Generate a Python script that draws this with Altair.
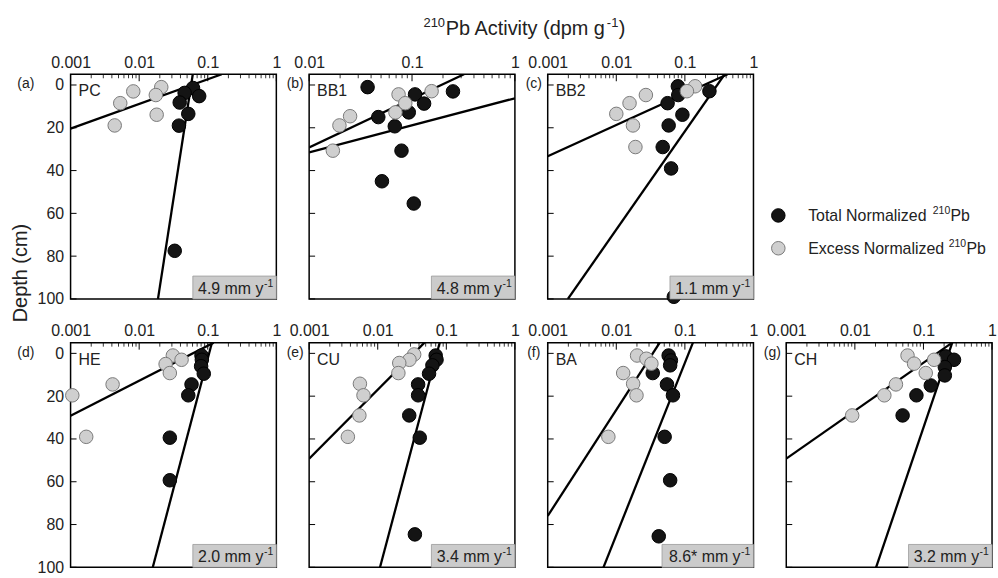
import altair as alt
import pandas as pd

FONT = "Liberation Sans"
W, H = 207, 226
Y_DOMAIN = [-5, 100]
DEPTH_TICKS = [0, 20, 40, 60, 80, 100]

# ---------------- data ----------------
panel_letters = ["a", "b", "c", "d", "e", "f", "g"]
site_names = ["PC", "BB1", "BB2", "HE", "CU", "BA", "CH"]
x_min = [0.001, 0.01, 0.001, 0.001, 0.001, 0.001, 0.001]
rate_values = ["4.9", "4.8", "1.1", "2.0", "3.4", "8.6*", "3.2"]
legend_main = ["Total Normalized ", "Excess Normalized "]
legend_series = ["Total", "Excess"]
isotope_mass = "210"
isotope = "Pb"
x_title_main = "Pb Activity (dpm g"
y_title = "Depth (cm)"

# (a) PC
pc_total_act = [0.061, 0.046, 0.075, 0.039, 0.052, 0.038, 0.033]
pc_total_depth = [1.4, 3.7, 5.2, 8.2, 13.5, 19.0, 77.5]
pc_excess_act = [0.021, 0.0082, 0.0175, 0.0053, 0.018, 0.0044]
pc_excess_depth = [1.0, 3.0, 4.7, 8.5, 13.9, 18.9]
pc_excess_fit_act = [0.001, 0.16]
pc_excess_fit_depth = [20.4, -5.0]
pc_total_fit_act = [0.0605, 0.0188]
pc_total_fit_depth = [-5.0, 100.0]

# (b) BB1
bb1_total_act = [0.037, 0.25, 0.107, 0.131, 0.093, 0.047, 0.068, 0.079, 0.051, 0.104]
bb1_total_depth = [1.0, 3.0, 4.4, 8.7, 12.8, 15.0, 19.3, 30.7, 45.0, 55.4]
bb1_excess_act = [0.155, 0.074, 0.086, 0.069, 0.025, 0.0197, 0.017]
bb1_excess_depth = [2.9, 4.4, 8.5, 12.8, 14.6, 18.9, 30.7]
bb1_excess_fit_act = [0.01, 0.32]
bb1_excess_fit_depth = [29.2, -5.0]
bb1_total_fit_act = [0.01, 1.0]
bb1_total_fit_depth = [31.5, 6.2]

# (c) BB2
bb2_total_act = [0.079, 0.08, 0.228, 0.056, 0.092, 0.058, 0.0475, 0.063, 0.069]
bb2_total_depth = [0.6, 4.7, 2.9, 8.5, 13.9, 18.9, 29.0, 39.0, 99.0]
bb2_excess_act = [0.141, 0.107, 0.027, 0.0156, 0.010, 0.0175, 0.019]
bb2_excess_depth = [0.6, 2.9, 4.7, 8.5, 13.5, 18.9, 29.0]
bb2_excess_fit_act = [0.001, 0.42]
bb2_excess_fit_depth = [33.3, -5.0]
bb2_total_fit_act = [0.38, 0.00197]
bb2_total_fit_depth = [-5.0, 100.0]

# (d) HE
he_total_act = [0.081, 0.082, 0.080, 0.0875, 0.058, 0.052, 0.028, 0.028]
he_total_depth = [1.0, 3.0, 6.0, 9.5, 14.5, 19.6, 39.4, 59.3]
he_excess_act = [0.031, 0.0415, 0.0243, 0.028, 0.0041, 0.00106, 0.00169]
he_excess_depth = [1.0, 3.0, 5.0, 9.2, 14.5, 19.6, 39.0]
he_excess_fit_act = [0.001, 0.122]
he_excess_fit_depth = [29.2, -5.0]
he_total_fit_act = [0.115, 0.0158]
he_total_fit_depth = [-5.0, 100.0]

# (e) CU
cu_total_act = [0.07, 0.072, 0.0627, 0.056, 0.0388, 0.0388, 0.0288, 0.041, 0.0348]
cu_total_depth = [1.0, 3.0, 5.6, 9.5, 14.5, 19.6, 29.0, 39.4, 84.6]
cu_excess_act = [0.034, 0.029, 0.0206, 0.020, 0.0055, 0.0062, 0.0054, 0.00367]
cu_excess_depth = [0.5, 3.0, 4.5, 9.2, 14.2, 19.6, 29.0, 39.0]
cu_excess_fit_act = [0.001, 0.048]
cu_excess_fit_depth = [49.2, -5.0]
cu_total_fit_act = [0.08, 0.0108]
cu_total_fit_depth = [-5.0, 100.0]

# (f) BA
ba_total_act = [0.058, 0.0625, 0.061, 0.034, 0.0548, 0.067, 0.0507, 0.061, 0.0416]
ba_total_depth = [1.0, 3.3, 5.6, 9.2, 14.5, 19.6, 39.0, 59.3, 85.5]
ba_excess_act = [0.0201, 0.0275, 0.0325, 0.0126, 0.0176, 0.0197, 0.00766]
ba_excess_depth = [1.0, 2.5, 4.8, 9.2, 14.2, 19.6, 39.0]
ba_excess_fit_act = [0.001, 0.043]
ba_excess_fit_depth = [76.0, -5.0]
ba_total_fit_act = [0.131, 0.0065]
ba_total_fit_depth = [-5.0, 100.0]

# (g) CH
ch_total_act = [0.211, 0.279, 0.205, 0.205, 0.128, 0.079, 0.0497]
ch_total_depth = [1.4, 3.0, 6.4, 10.3, 15.0, 19.6, 29.0]
ch_excess_act = [0.0586, 0.143, 0.073, 0.108, 0.0397, 0.0269, 0.00914]
ch_excess_depth = [1.0, 3.0, 4.8, 9.2, 14.5, 19.6, 29.0]
ch_excess_fit_act = [0.001, 0.263]
ch_excess_fit_depth = [49.2, -5.0]
ch_total_fit_act = [0.263, 0.0204]
ch_total_fit_depth = [-5.0, 100.0]

panel_data = [
    (pc_total_act, pc_total_depth, pc_excess_act, pc_excess_depth,
     pc_excess_fit_act, pc_excess_fit_depth, pc_total_fit_act, pc_total_fit_depth),
    (bb1_total_act, bb1_total_depth, bb1_excess_act, bb1_excess_depth,
     bb1_excess_fit_act, bb1_excess_fit_depth, bb1_total_fit_act, bb1_total_fit_depth),
    (bb2_total_act, bb2_total_depth, bb2_excess_act, bb2_excess_depth,
     bb2_excess_fit_act, bb2_excess_fit_depth, bb2_total_fit_act, bb2_total_fit_depth),
    (he_total_act, he_total_depth, he_excess_act, he_excess_depth,
     he_excess_fit_act, he_excess_fit_depth, he_total_fit_act, he_total_fit_depth),
    (cu_total_act, cu_total_depth, cu_excess_act, cu_excess_depth,
     cu_excess_fit_act, cu_excess_fit_depth, cu_total_fit_act, cu_total_fit_depth),
    (ba_total_act, ba_total_depth, ba_excess_act, ba_excess_depth,
     ba_excess_fit_act, ba_excess_fit_depth, ba_total_fit_act, ba_total_fit_depth),
    (ch_total_act, ch_total_depth, ch_excess_act, ch_excess_depth,
     ch_excess_fit_act, ch_excess_fit_depth, ch_total_fit_act, ch_total_fit_depth),
]

SERIES = ["Total", "Excess"]
FILL = alt.Scale(domain=SERIES, range=["#141414", "#cfcfcf"])
STROKE = alt.Scale(domain=SERIES, range=["#000000", "#7a7a7a"])
TEXT_COLOR = "#222222"


def text_at(txt, x, y, size, align="left", baseline="alphabetic", angle=0):
    kw = dict(align=align, baseline=baseline, fontSize=size, color=TEXT_COLOR)
    if angle:
        kw["angle"] = angle
    return alt.Chart(pd.DataFrame({"t": [txt]})).mark_text(**kw).encode(
        x=alt.value(x), y=alt.value(y), text="t:N")


def make_panel(k, first_col, extra=None):
    t_act, t_dep, e_act, e_dep, ef_act, ef_dep, tf_act, tf_dep = panel_data[k]
    xmin = x_min[k]
    decades = [v for v in [0.001, 0.01, 0.1, 1.0] if v >= xmin * 0.999]
    minor = [m * d for d in decades[:-1] for m in range(2, 10)]

    xs = alt.Scale(type="log", domain=[xmin, 1], nice=False)
    ys = alt.Scale(domain=Y_DOMAIN, reverse=True, nice=False, zero=False)
    x_axis = alt.Axis(orient="top", values=decades, format="~g", ticks=False,
                      domain=False, grid=False, labelFontSize=16, labelPadding=4,
                      labelFlush=False, labelOverlap=False, labelColor=TEXT_COLOR,
                      title=None)
    if first_col:
        y_axis = alt.Axis(values=DEPTH_TICKS, ticks=False, domain=False, grid=False,
                          labelFontSize=16, labelPadding=7, labelColor=TEXT_COLOR,
                          title=None)
    else:
        y_axis = None

    pts = pd.DataFrame({
        "act": t_act + e_act,
        "depth": t_dep + e_dep,
        "series": ["Total"] * len(t_act) + ["Excess"] * len(e_act),
    })
    fits = pd.DataFrame({
        "act": ef_act + tf_act,
        "depth": ef_dep + tf_dep,
        "fit": ["excess"] * len(ef_act) + ["total"] * len(tf_act),
    })
    xmaj = pd.DataFrame({"v": decades})
    xmin_df = pd.DataFrame({"v": minor})
    ymaj = pd.DataFrame({"v": DEPTH_TICKS})
    rate = rate_values[k]
    bw = 60 + 8 * len(rate)
    ann = pd.DataFrame({"rate": [rate]})

    X = lambda f: alt.X(f, scale=xs, axis=x_axis)
    Y = lambda f: alt.Y(f, scale=ys, axis=y_axis)

    layers = [
        alt.Chart(xmaj).mark_rule(color="black", strokeWidth=1).encode(
            x=X("v:Q"), y=alt.value(0), y2=alt.value(7)),
        alt.Chart(xmin_df).mark_rule(color="black", strokeWidth=0.8).encode(
            x=X("v:Q"), y=alt.value(0), y2=alt.value(4)),
        alt.Chart(ymaj).mark_rule(color="black", strokeWidth=1).encode(
            y=Y("v:Q"), x=alt.value(0), x2=alt.value(6)),
        alt.Chart(fits).mark_line(color="black", strokeWidth=2.3, clip=True).encode(
            x=X("act:Q"), y=Y("depth:Q"), detail="fit:N"),
        alt.Chart(pts).mark_circle(size=185, strokeWidth=1, opacity=1).encode(
            x=X("act:Q"), y=Y("depth:Q"),
            fill=alt.Fill("series:N", scale=FILL, legend=None),
            stroke=alt.Stroke("series:N", scale=STROKE, legend=None)),
        alt.Chart(ann).mark_rect(fill="#cbcbcb", stroke="#9a9a9a", strokeWidth=0.8).encode(
            x=alt.value(W - bw), x2=alt.value(W), y=alt.value(H - 23), y2=alt.value(H)),
        text_at(rate + " mm y", W - 13, H - 5, 16, align="right"),
        text_at("-1", W - 12.5, H - 12, 10.5),
        text_at(site_names[k], 8, 17, 16, baseline="middle"),
        text_at("(" + panel_letters[k] + ")", -45 if first_col else -14, 10, 14,
                align="center", baseline="middle"),
    ]
    if extra:
        layers += extra
    return alt.layer(*layers).properties(width=W, height=H)


# overall axis titles (superscripts as separate, smaller text pieces)
tx0 = 115
title_layers = [
    text_at(isotope_mass, tx0, -48, 13),
    text_at(x_title_main, tx0 + 22.5, -40, 20),
    text_at("-1", tx0 + 184.5, -48, 13),
    text_at(")", tx0 + 196.5, -40, 20),
]
depth_layer = text_at(y_title, -50, 200, 20, align="center", baseline="middle", angle=270)

pa = make_panel(0, True, [depth_layer])
pb = make_panel(1, False, title_layers)
pc = make_panel(2, False)
pd_ = make_panel(3, True)
pe = make_panel(4, False)
pf = make_panel(5, False)
pg = make_panel(6, False)

# custom legend panel
leg_df = pd.DataFrame({"row": [0, 1], "series": legend_series})
leg_y = alt.Y("row:Q", scale=alt.Scale(domain=[0, 1], range=[142, 175]), axis=None)
leg_layers = [
    alt.Chart(leg_df).mark_circle(size=185, strokeWidth=1, opacity=1).encode(
        x=alt.value(-8), y=leg_y,
        fill=alt.Fill("series:N", scale=FILL, legend=None),
        stroke=alt.Stroke("series:N", scale=STROKE, legend=None)),
]
main_w = [125.4, 141.4]
for i, (lab, yc) in enumerate(zip(legend_main, [142, 175])):
    base = yc + 5.5
    leg_layers += [
        text_at(lab, 22, base, 16),
        text_at(isotope_mass, 22 + main_w[i], base - 7, 10.5),
        text_at(isotope, 22 + main_w[i] + 17.8, base, 16),
    ]
legend = alt.layer(*leg_layers).properties(
    width=W, height=H, view=alt.ViewBackground(stroke="transparent"))

chart = alt.concat(
    pa, pb, pc, legend, pd_, pe, pf, pg,
    columns=4, spacing={"row": 44, "column": 33}, bounds="flush",
).properties(
    padding={"left": 10, "top": 14, "right": 0, "bottom": 0},
).configure(font=FONT).configure_view(stroke="black", strokeWidth=1.5)

chart.save("out.html", embed_options={"renderer": "svg", "actions": False})
